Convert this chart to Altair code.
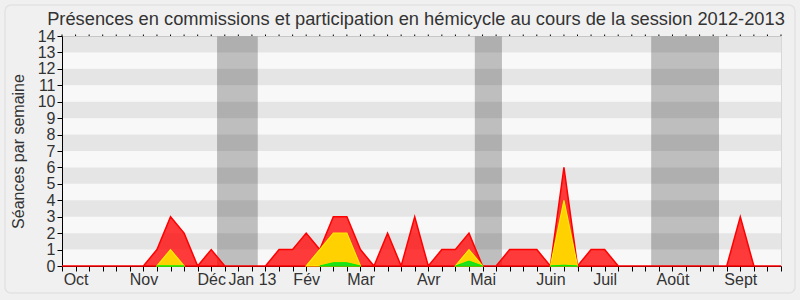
import json
import altair as alt
import pandas as pd

TITLE = "Présences en commissions et participation en hémicycle au cours de la session 2012-2013"

# weekly values (week index 0..53 of the 2012-2013 session)
weeks = list(range(54))
red = [0, 0, 0, 0, 0, 0, 0, 1, 3, 2, 0, 1, 0, 0, 0, 0, 1, 1, 2, 1,
       3, 3, 1, 0, 2, 0, 3, 0, 1, 1, 2, 0, 0, 1, 1, 1, 0, 6, 0, 1,
       1, 0, 0, 0, 0, 0, 0, 0, 0, 0, 3, 0, 0, 0]
N = None
yellow = [N, N, N, N, N, N, N, 0, 1, 0, N, N, N, N, N, N, N, N, 0, 1,
          2, 2, 0, N, N, N, N, N, N, 0, 1, 0, N, N, N, N, 0, 4, 0, N,
          N, N, N, N, N, N, N, N, N, N, N, N, N, N]
green = [N, N, N, N, N, N, N, 0, 0, 0, N, N, N, N, N, N, N, N, N, 0,
         0.2, 0.2, 0, N, N, N, N, N, N, 0, 0.3, 0, N, N, N, N, 0, 0.05, 0, N,
         N, N, N, N, N, N, N, N, N, N, N, N, N, N]

# holidays (in week units)
hol_start = [11.43, 30.43, 43.43]
hol_end = [14.43, 32.43, 48.43]

# month tick labels
month_weeks = [1, 6, 11, 14, 18, 22, 27, 31, 36, 40, 45, 50]
month_names = ["Oct", "Nov", "Déc", "Jan 13", "Fév", "Mar", "Avr", "Mai",
               "Juin", "Juil", "Août", "Sept"]

y_ticks = list(range(15))
band_starts = [1, 3, 5, 7, 9, 11, 13]

FONT = "Liberation Sans"
TXT = "#333333"

df = pd.DataFrame({"week": weeks, "red": red, "yellow": yellow, "green": green})
hol = pd.DataFrame({"s": hol_start, "e": hol_end})
bands = pd.DataFrame({"b": band_starts})

mw = json.dumps(month_weeks)
mn = json.dumps(month_names, ensure_ascii=False)
label_expr = f"indexof({mw}, datum.value) >= 0 ? {mn}[indexof({mw}, datum.value)] : ''"

xscale = alt.Scale(domain=[0, 53], nice=False, zero=False)
yscale = alt.Scale(domain=[0, 14], nice=False)

xaxis = alt.Axis(values=weeks, labelExpr=label_expr, labelOverlap=False, labelFlush=False,
                 title=None, grid=False, tickSize=5, tickColor="black", domainColor="black",
                 labelFont=FONT, labelFontSize=16, labelColor=TXT, labelPadding=0,
                 labelBaseline="top")
yaxis = alt.Axis(values=y_ticks, title="Séances par semaine", grid=False, tickSize=5,
                 tickColor="black", domainColor="black", labelFont=FONT, labelFontSize=16,
                 labelColor=TXT, labelPadding=2, titleFont=FONT, titleFontSize=16,
                 titleFontWeight="normal", titleColor=TXT, titleX=-44, titleY=115,
                 titleBaseline="middle", titleAlign="center")


def X(field):
    return alt.X(field, scale=xscale, axis=xaxis)


def Y(field):
    return alt.Y(field, scale=yscale, axis=yaxis)


holidays = alt.Chart(hol).mark_rect(color="#BEBEBE").encode(
    x=X("s:Q"), x2="e:Q",
)

dark = alt.Chart(bands).transform_calculate(t="datum.b + 1").mark_rect(
    color="black", opacity=0.073).encode(
    y=Y("b:Q"), y2="t:Q",
)

top_dots = alt.Chart(df).mark_rule(color="black", strokeWidth=1).encode(
    x=X("week:Q"), y=alt.value(-1.5), y2=alt.value(0),
)

red_area = alt.Chart(df).mark_area(fill="#FF0000", fillOpacity=0.77, stroke="#FF0000",
                                   strokeWidth=1.5).encode(x=X("week:Q"), y=Y("red:Q"))
yellow_area = alt.Chart(df).mark_area(fill="#FFD100", fillOpacity=1, stroke="#FFEE00",
                                      strokeWidth=1.2).encode(x=X("week:Q"), y=Y("yellow:Q"))
green_area = alt.Chart(df).mark_area(fill="#22DD22", fillOpacity=1, stroke="#00EE00",
                                     strokeWidth=1).encode(x=X("week:Q"), y=Y("green:Q"))

frame = alt.Chart(pd.DataFrame({"a": [0]})).mark_rect(
    fillOpacity=0, stroke="#E2E2E2", strokeWidth=1.5, cornerRadius=6).encode(
    x=alt.value(-57), x2=alt.value(733), y=alt.value(-31), y2=alt.value(257))

title = alt.Chart(pd.DataFrame({"t": [TITLE]})).mark_text(
    font=FONT, fontSize=18.3, color=TXT, align="center", baseline="alphabetic").encode(
    text="t:N", x=alt.value(354), y=alt.value(-11))

chart = alt.layer(holidays, dark, top_dots, red_area, yellow_area, green_area, frame, title).properties(
    width=719, height=230,
    autosize=alt.AutoSizeParams(type="none"),
    padding={"left": 62, "top": 36, "right": 19, "bottom": 34},
    background="#F0F0F0",
).configure_view(fill="#F8F8F8", stroke="#D8D8D8")

chart.save("out.html", embed_options={"renderer": "svg", "actions": False})
